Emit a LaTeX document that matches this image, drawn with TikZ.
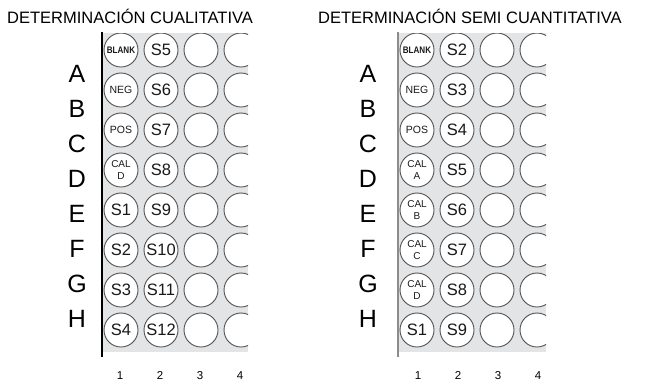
\documentclass[tikz,border=0pt]{standalone}
\usepackage{fontspec}
\setmainfont{Liberation Sans}
\newfontfamily\condfont[FakeStretch=0.85]{Liberation Sans}
\definecolor{plategray}{RGB}{226, 228, 229}
\definecolor{wellrim}{RGB}{80, 80, 80}
\definecolor{welltext}{RGB}{25, 25, 25}

\begin{document}
\begin{tikzpicture}[x=1pt, y=-1pt,
    well/.style={circle, draw=wellrim, fill=white, line width=0.9pt, minimum size=34pt, inner sep=0pt, text=welltext, font=\fontsize{16.5}{16.5}\selectfont},
    smallwell/.style={well, font=\fontsize{10.5}{10.5}\selectfont},
    tinywell/.style={well, font=\condfont\bfseries\fontsize{9.5}{9.5}\selectfont},
    calwell/.style={well, align=center, font=\fontsize{10}{12.5}\selectfont},
    rowlbl/.style={inner sep=0pt, anchor=base, font=\fontsize{25}{25}\selectfont},
    collbl/.style={inner sep=0pt, anchor=base, font=\fontsize{11.5}{11.5}\selectfont},
    heading/.style={inner sep=0pt, anchor=base west, font=\fontsize{16.5}{16.5}\selectfont}
]
    \useasboundingbox (0,0) rectangle (652,384);

    % Plate 1: cualitativa
    \node[heading] (titleQ) at (7,23.5) {DETERMINACIÓN CUALITATIVA};
    \fill[plategray] (103,33) rectangle (248,352);
    \draw[line width=1.5pt] (102,32) -- (102,357);
    \begin{scope}
        \clip (103,33) rectangle (248,352);
        \foreach \r [count=\i from 0] in {A,B,C,D,E,F,G,H} {
            \node[well] (q\r3) at (201,50+40*\i) {};
            \node[well] (q\r4) at (241,50+40*\i) {};
        }
        \node[tinywell] (qA1) at (121,50) {BLANK};
        \node[smallwell] (qB1) at (121,90) {NEG};
        \node[smallwell] (qC1) at (121,130) {POS};
        \node[calwell] (qD1) at (121,170) {CAL\\D};
        \foreach \r/\s [count=\i from 4] in {E/1,F/2,G/3,H/4}
            \node[well] (q\r1) at (121,50+40*\i) {S\s};
        \foreach \r/\s [count=\i from 0] in {A/5,B/6,C/7,D/8,E/9,F/10,G/11,H/12}
            \node[well] (q\r2) at (161,50+40*\i) {S\s};
    \end{scope}
    \foreach \r [count=\i from 0] in {A,B,C,D,E,F,G,H}
        \node[rowlbl] (qrow\r) at (77,82+35*\i) {\r};
    \foreach \c/\x in {1/120,2/160,3/200,4/240}
        \node[collbl] (qcol\c) at (\x,379) {\c};

    % Plate 2: semi cuantitativa
    \node[heading] (titleS) at (318,23.5) {DETERMINACIÓN SEMI CUANTITATIVA};
    \fill[plategray] (399,33) rectangle (546,352);
    \draw[line width=1.5pt, black!45] (398,32) -- (398,357);
    \begin{scope}
        \clip (399,33) rectangle (546,352);
        \foreach \r [count=\i from 0] in {A,B,C,D,E,F,G,H} {
            \node[well] (s\r3) at (497,50+40*\i) {};
            \node[well] (s\r4) at (537,50+40*\i) {};
        }
        \node[tinywell] (sA1) at (417,50) {BLANK};
        \node[smallwell] (sB1) at (417,90) {NEG};
        \node[smallwell] (sC1) at (417,130) {POS};
        \foreach \r/\k [count=\i from 3] in {D/A,E/B,F/C,G/D}
            \node[calwell] (s\r1) at (417,50+40*\i) {CAL\\\k};
        \node[well] (sH1) at (417,330) {S1};
        \foreach \r/\s [count=\i from 0] in {A/2,B/3,C/4,D/5,E/6,F/7,G/8,H/9}
            \node[well] (s\r2) at (457,50+40*\i) {S\s};
    \end{scope}
    \foreach \r [count=\i from 0] in {A,B,C,D,E,F,G,H}
        \node[rowlbl] (srow\r) at (368,82+35*\i) {\r};
    \foreach \c/\x in {1/418,2/458,3/498,4/538}
        \node[collbl] (scol\c) at (\x,379) {\c};
\end{tikzpicture}
\end{document}
